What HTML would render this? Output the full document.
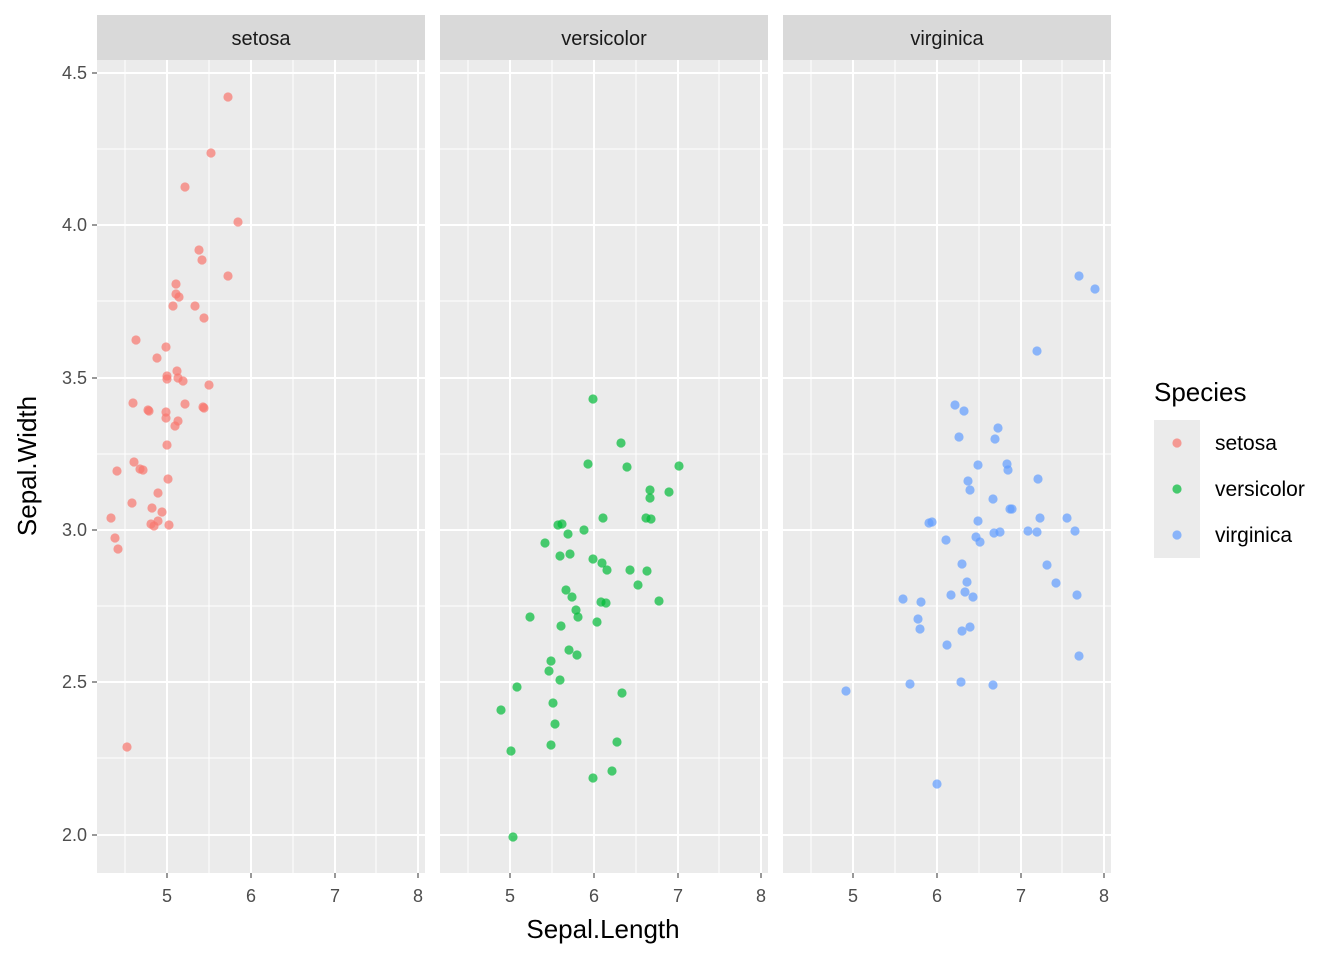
<!DOCTYPE html>
<html><head><meta charset="utf-8"><style>body{margin:0;background:#fff}svg{display:block;font-family:"Liberation Sans",Arial,sans-serif}</style></head>
<body>
<svg id="s" width="1344" height="960" xmlns="http://www.w3.org/2000/svg"></svg>
<script>
const s=document.getElementById('s');let h='';
const offs=[0,343,686];
const names=['setosa','versicolor','virginica'];
const ys=[73,225,378,530,682,835],yl=['4.5','4.0','3.5','3.0','2.5','2.0'];
const ym=[149,301,454,606,758];
const xs=[167,251,335,418],xm=[125,209,293,376];
offs.forEach((o,i)=>{
 h+=`<rect x="${97+o}" y="60" width="328" height="813" fill="#EBEBEB"/>`;
 ym.forEach(y=>h+=`<line x1="${97+o}" x2="${425+o}" y1="${y}" y2="${y}" stroke="#fff" stroke-width="1"/>`);
 xm.forEach(x=>h+=`<line x1="${x+o}" x2="${x+o}" y1="60" y2="873" stroke="#fff" stroke-width="1"/>`);
 ys.forEach(y=>h+=`<line x1="${97+o}" x2="${425+o}" y1="${y}" y2="${y}" stroke="#fff" stroke-width="2"/>`);
 xs.forEach((x,j)=>{h+=`<line x1="${x+o}" x2="${x+o}" y1="60" y2="873" stroke="#fff" stroke-width="2"/><line x1="${x+o}" x2="${x+o}" y1="873" y2="878" stroke="#333" stroke-width="1"/><text x="${x+o}" y="902" font-size="18" fill="#4D4D4D" text-anchor="middle">${j+5}</text>`});
 h+=`<rect x="${97+o}" y="15" width="328" height="45" fill="#D9D9D9"/><text x="${261+o}" y="45" font-size="20" fill="#1A1A1A" text-anchor="middle">${names[i]}</text>`;
});
ys.forEach((y,j)=>h+=`<line x1="92" x2="97" y1="${y}" y2="${y}" stroke="#333"/><text x="87" y="${y+6}" font-size="18" fill="#4D4D4D" text-anchor="end">${yl[j]}</text>`);
const P=[
[[228,97],[211,153],[185,187],[238,222],[199,250],[202,260],[228,276],[176,284],[176,294],[179,297],[173,306],[195,306],[204,318],[136,340],[166,347],[157,358],[177,371],[167,376],[167,379],[183,381],[178,378],[209,385],[133,403],[185,404],[203,407],[204,408],[148,410],[149,411],[166,412],[166,418],[178,421],[175,426],[167,445],[134,462],[117,471],[140,469],[143,470],[168,479],[158,493],[132,503],[162,512],[111,518],[152,508],[158,521],[151,524],[154,526],[169,525],[115,538],[118,549],[127,747]],
[[593,399],[621,443],[588,464],[627,467],[679,466],[650,490],[650,498],[669,492],[646,518],[651,519],[603,518],[558,525],[562,524],[568,534],[584,530],[545,543],[560,556],[570,554],[593,559],[602,563],[607,570],[630,570],[647,571],[566,590],[572,597],[638,585],[601,602],[606,603],[659,601],[576,610],[578,617],[530,617],[597,622],[561,626],[569,650],[577,655],[551,661],[549,671],[560,680],[517,687],[622,693],[553,703],[501,710],[555,724],[551,745],[617,742],[511,751],[612,771],[593,778],[513,837]],
[[1079,276],[1095,289],[1037,351],[955,405],[964,411],[998,428],[959,437],[995,439],[968,481],[970,490],[978,465],[1007,464],[1008,470],[1038,479],[993,499],[1010,509],[1012,509],[932,522],[929,523],[978,521],[1040,518],[1028,531],[1037,532],[1067,518],[1075,531],[946,540],[976,537],[980,542],[994,533],[1000,532],[962,564],[1047,565],[967,582],[1056,583],[951,595],[965,592],[973,597],[903,599],[921,602],[1077,595],[918,619],[920,629],[970,627],[962,631],[947,645],[961,682],[910,684],[993,685],[1079,656],[846,691],[937,784]]];
const C=['#F8766D','#00BA38','#619CFF'];
P.forEach((a,i)=>a.forEach(p=>h+=`<circle cx="${p[0]}" cy="${p[1]}" r="4.6" fill="${C[i]}" fill-opacity="0.7"/>`));
h+=`<text x="603" y="938" font-size="26" fill="#000" text-anchor="middle">Sepal.Length</text>`;
h+=`<text transform="translate(36,466) rotate(-90)" font-size="26" fill="#000" text-anchor="middle">Sepal.Width</text>`;
h+=`<text x="1154" y="401" font-size="26" fill="#000">Species</text>`;
names.forEach((n,i)=>{const y=443+i*46;h+=`<rect x="1154" y="${y-23}" width="46" height="46" fill="#EBEBEB"/><circle cx="1177" cy="${y}" r="4.6" fill="${C[i]}" fill-opacity="0.7"/><text x="1215" y="${y+7}" font-size="21" fill="#000">${n}</text>`});
s.innerHTML=h;
</script>
</body></html>
